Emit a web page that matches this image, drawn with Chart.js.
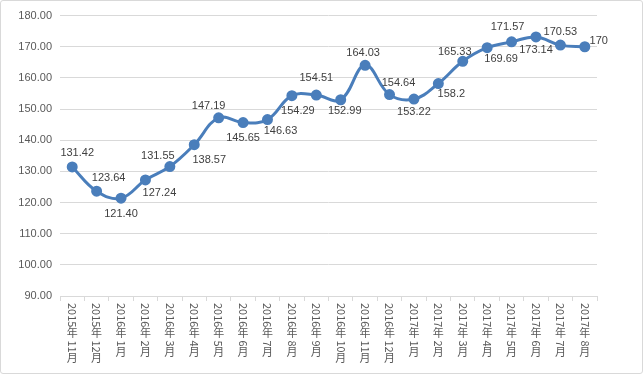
<!DOCTYPE html>
<html>
<head>
<meta charset="utf-8">
<script src="https://cdn.jsdelivr.net/npm/chart.js@4/dist/chart.umd.min.js"></script>
<style>
html,body{margin:0;padding:0;background:#fff;}
#wrap{position:absolute;left:0;top:0;width:643px;height:374px;box-sizing:border-box;border:1px solid #d9d9d9;border-radius:3px;background:#fff;}
canvas{display:block;}
</style>
</head>
<body>
<div id="wrap"><canvas id="c" width="641" height="372"></canvas></div>
<script>
const categories = ["2015年11月","2015年12月","2016年1月","2016年2月","2016年3月","2016年4月","2016年5月","2016年6月","2016年7月","2016年8月","2016年9月","2016年10月","2016年11月","2016年12月","2017年1月","2017年2月","2017年3月","2017年4月","2017年5月","2017年6月","2017年7月","2017年8月"];
const values = [131.42,123.64,121.40,127.24,131.55,138.57,147.19,145.65,146.63,154.29,154.51,152.99,164.03,154.64,153.22,158.2,165.33,169.69,171.57,173.14,170.53,170];
const valueLabels = ["131.42","123.64","121.40","127.24","131.55","138.57","147.19","145.65","146.63","154.29","154.51","152.99","164.03","154.64","153.22","158.2","165.33","169.69","171.57","173.14","170.53","170"];
const yMin = 90, yMax = 180, yStep = 10;

// label offsets (style): [dx, dy] of label centre relative to point
const labelOffsets = [[5,-14],[12,-13],[0,16],[14,13],[-12,-11],[15,15],[-10,-12],[0,15],[13,11],[6,15],[0,-17],[4,11],[-2,-12],[9,-12],[0,13],[13,10],[-8,-9],[14,11],[-4,-15],[0,13],[0,-13],[14,-6]];

const dataLabelPlugin = {
  id: 'dataLabels',
  afterDatasetsDraw(chart) {
    const ctx = chart.ctx;
    const meta = chart.getDatasetMeta(0);
    ctx.save();
    ctx.font = '11px "Liberation Sans", Arial, sans-serif';
    ctx.fillStyle = '#404040';
    ctx.textAlign = 'center';
    ctx.textBaseline = 'middle';
    meta.data.forEach((pt, i) => {
      const o = labelOffsets[i] || [0, -12];
      ctx.fillText(valueLabels[i], pt.x + o[0], pt.y + o[1]);
    });
    ctx.restore();
  }
};

const verticalLabelPlugin = {
  id: 'verticalLabels',
  afterDraw(chart) {
    const ctx = chart.ctx;
    const xs = chart.scales.x;
    const fs = 11;
    ctx.save();
    ctx.fillStyle = '#595959';
    ctx.font = fs + 'px "Noto Sans CJK SC", sans-serif';
    categories.forEach((lab, i) => {
      const x = xs.getPixelForTick(i);
      let cy = xs.top + 7;
      const runs = lab.match(/[0-9A-Za-z.]+|[^0-9A-Za-z.]/g);
      runs.forEach(r => {
        if (/^[0-9A-Za-z.]+$/.test(r)) {
          const w = ctx.measureText(r).width;
          ctx.save();
          ctx.translate(x, cy);
          ctx.rotate(Math.PI / 2);
          ctx.textAlign = 'left';
          ctx.textBaseline = 'middle';
          ctx.fillText(r, 0, 0);
          ctx.restore();
          cy += w + 1;
        } else {
          ctx.textAlign = 'center';
          ctx.textBaseline = 'top';
          ctx.fillText(r, x, cy - 1);
          cy += fs + 1;
        }
      });
    });
    ctx.restore();
  }
};

new Chart(document.getElementById('c'), {
  type: 'line',
  data: {
    labels: categories,
    datasets: [{
      data: values,
      borderColor: '#4a7ebb',
      backgroundColor: '#4a7ebb',
      borderWidth: 3,
      pointRadius: 4,
      pointBackgroundColor: '#4a7ebb',
      pointBorderColor: '#4a7ebb',
      tension: 0.4,
      fill: false
    }]
  },
  options: {
    responsive: false,
    animation: false,
    layout: { padding: { top: 14, right: 45, left: 0, bottom: 0 } },
    plugins: { legend: { display: false }, tooltip: { enabled: false } },
    scales: {
      x: {
        offset: true,
        grid: { offset: true, drawOnChartArea: false, drawTicks: true, tickLength: 5, color: '#d9d9d9' },
        border: { display: true, color: '#d9d9d9', width: 1 },
        ticks: { display: false },
        afterFit(scale) { scale.height = 77; }
      },
      y: {
        min: yMin, max: yMax,
        grid: { color: '#d9d9d9', drawTicks: false, lineWidth: 1 },
        border: { display: false },
        ticks: {
          stepSize: yStep,
          padding: 8,
          color: '#595959',
          font: { family: '"Liberation Sans", Arial, sans-serif', size: 11 },
          callback: v => Number(v).toFixed(2)
        },
        afterFit(scale) { scale.width = 59; }
      }
    }
  },
  plugins: [dataLabelPlugin, verticalLabelPlugin]
});
</script>
</body>
</html>
